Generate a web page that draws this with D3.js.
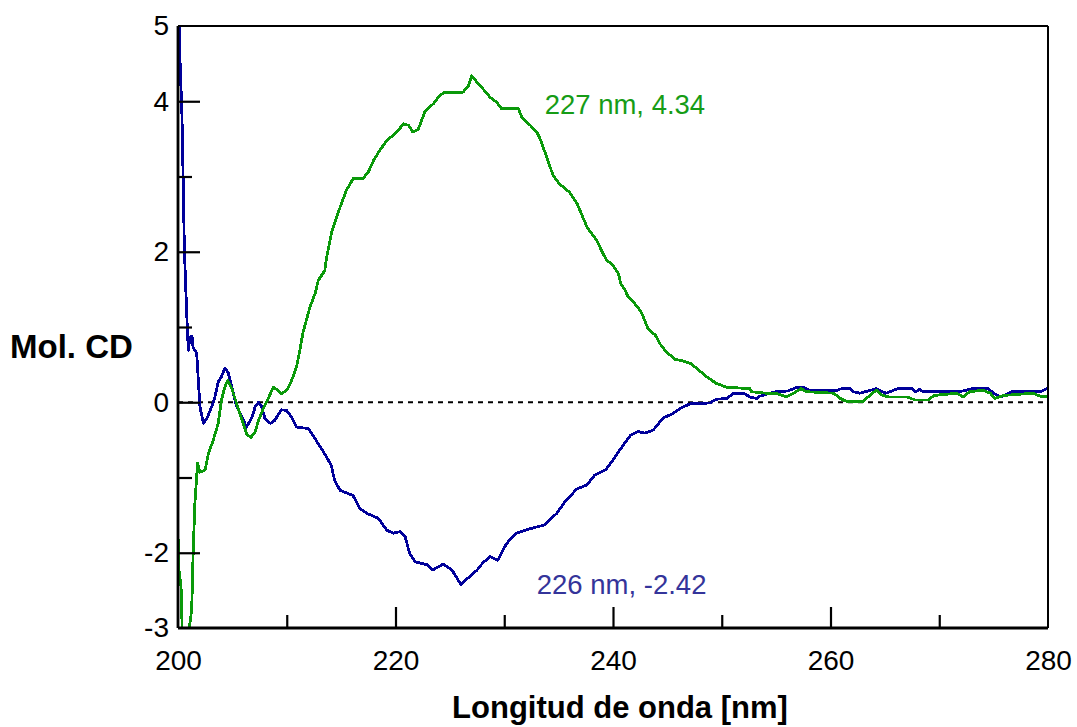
<!DOCTYPE html>
<html>
<head>
<meta charset="utf-8">
<script src="https://cdn.jsdelivr.net/npm/d3@7/dist/d3.min.js"></script>
<style>
  html, body { margin: 0; padding: 0; background: #fff; }
  svg { display: block; font-family: "Liberation Sans", Arial, sans-serif; }
</style>
</head>
<body>
<svg id="chart" width="1077" height="727"></svg>
<script>
// CD spectra: wavelength (nm) and molar CD for each sample
const greenNm = [200.0, 200.03, 200.28, 200.4, 200.95, 201.26, 201.4, 201.56, 201.8, 202.0, 202.5, 202.8, 203.25, 203.7, 204.0, 204.3, 204.57, 204.9, 205.4, 205.9, 206.3, 206.7, 207.1, 207.4, 207.85, 208.3, 208.76, 209.2, 209.5, 210.0, 210.45, 210.9, 211.2, 211.5, 211.8, 212.14, 212.6, 212.9, 213.5, 213.67, 214.13, 214.6, 214.9, 215.5, 216.1, 217.0, 217.5, 217.97, 218.57, 219.2, 219.8, 220.26, 220.7, 221.2, 221.6, 222.1, 222.7, 223.5, 224.1, 224.55, 226.2, 226.7, 227.0, 227.8, 228.2, 228.7, 229.3, 229.76, 231.3, 231.6, 232.4, 233.0, 233.3, 233.9, 234.5, 235.1, 236.0, 236.7, 237.6, 238.5, 239.0, 239.4, 240.0, 240.5, 240.7, 241.1, 241.4, 242.0, 242.5, 242.8, 243.2, 243.9, 244.3, 244.9, 245.7, 246.4, 247.2, 247.7, 248.6, 249.5, 250.45, 252.6, 252.7, 254.1, 255.0, 255.95, 256.6, 257.3, 257.8, 260.3, 260.9, 261.5, 263.0, 263.6, 264.2, 264.8, 265.4, 267.0, 267.8, 269.0, 269.5, 271.6, 272.2, 272.8, 274.0, 274.7, 275.1, 275.9, 278.6, 279.3, 280.0];
const greenCD = [-1.63, -2.16, -2.45, -3.1, -3.1, -2.76, -1.97, -1.32, -0.81, -0.93, -0.90, -0.68, -0.50, -0.28, 0.03, 0.20, 0.29, 0.20, -0.02, -0.24, -0.42, -0.47, -0.39, -0.24, -0.08, 0.05, 0.20, 0.16, 0.11, 0.16, 0.29, 0.47, 0.69, 0.93, 1.09, 1.27, 1.44, 1.62, 1.75, 1.93, 2.26, 2.46, 2.59, 2.82, 2.97, 2.97, 3.06, 3.21, 3.35, 3.48, 3.55, 3.61, 3.70, 3.68, 3.59, 3.63, 3.86, 3.97, 4.08, 4.12, 4.12, 4.20, 4.34, 4.20, 4.14, 4.05, 3.99, 3.90, 3.90, 3.79, 3.68, 3.59, 3.50, 3.26, 3.01, 2.90, 2.79, 2.64, 2.33, 2.15, 2.00, 1.89, 1.82, 1.71, 1.58, 1.49, 1.40, 1.31, 1.22, 1.13, 0.98, 0.89, 0.78, 0.67, 0.57, 0.55, 0.51, 0.45, 0.34, 0.25, 0.20, 0.18, 0.14, 0.12, 0.12, 0.07, 0.12, 0.18, 0.14, 0.12, 0.05, 0.01, 0.01, 0.09, 0.16, 0.09, 0.07, 0.07, 0.03, 0.03, 0.09, 0.12, 0.07, 0.14, 0.16, 0.12, 0.05, 0.09, 0.12, 0.08, 0.08];

const blueNm = [200.15, 200.2, 200.34, 200.49, 200.58, 200.8, 200.95, 201.1, 201.3, 201.38, 201.72, 201.87, 202.02, 202.33, 202.64, 203.1, 203.4, 203.7, 204.0, 204.3, 204.6, 204.9, 205.4, 205.9, 206.3, 206.8, 207.1, 207.4, 207.7, 208.0, 208.5, 208.9, 209.5, 210.0, 210.45, 210.9, 212.0, 212.4, 213.3, 214.1, 214.4, 214.9, 216.1, 216.7, 217.4, 218.4, 219.2, 219.8, 220.4, 220.9, 221.3, 221.8, 222.9, 223.4, 224.4, 225.2, 226.0, 227.5, 228.0, 228.7, 229.4, 230.2, 231.1, 232.4, 233.7, 234.8, 235.7, 236.7, 237.6, 238.3, 239.3, 240.0, 240.6, 241.6, 242.3, 242.9, 243.7, 244.6, 245.5, 246.2, 247.1, 248.9, 249.5, 250.45, 251.1, 252.0, 252.6, 253.2, 253.5, 254.4, 255.0, 256.1, 256.9, 257.5, 258.1, 260.6, 261.0, 261.8, 262.1, 262.7, 264.2, 265.1, 266.2, 267.5, 267.8, 268.2, 268.5, 271.6, 272.2, 273.0, 274.5, 275.0, 275.6, 276.0, 276.7, 279.3, 279.9, 280.0];
const blueCD = [5.3, 4.41, 3.97, 2.86, 2.06, 1.18, 0.69, 0.87, 0.87, 0.73, 0.65, 0.29, -0.06, -0.28, -0.22, -0.06, 0.07, 0.27, 0.34, 0.45, 0.40, 0.23, -0.06, -0.20, -0.33, -0.20, -0.06, 0.00, -0.06, -0.22, -0.28, -0.24, -0.10, -0.11, -0.20, -0.33, -0.35, -0.44, -0.64, -0.84, -1.04, -1.17, -1.24, -1.41, -1.48, -1.54, -1.70, -1.74, -1.72, -1.79, -2.01, -2.12, -2.16, -2.23, -2.15, -2.23, -2.42, -2.23, -2.14, -2.05, -2.10, -1.88, -1.74, -1.68, -1.63, -1.48, -1.30, -1.15, -1.10, -0.97, -0.90, -0.77, -0.64, -0.44, -0.39, -0.41, -0.37, -0.21, -0.15, -0.08, -0.02, -0.01, 0.04, 0.05, 0.12, 0.12, 0.07, 0.05, 0.08, 0.12, 0.14, 0.15, 0.20, 0.20, 0.16, 0.16, 0.18, 0.18, 0.14, 0.12, 0.18, 0.12, 0.18, 0.18, 0.14, 0.17, 0.14, 0.14, 0.15, 0.18, 0.18, 0.12, 0.07, 0.09, 0.14, 0.14, 0.18, 0.20];

// Extremum annotations
const peakNm = [227, 226];
const peakCD = [4.34, -2.42];

// Axis ticks and labels
const xLabelTicks = [200, 220, 240, 260, 280];
const xMajorTicks = [220, 240, 260];
const xMinorTicks = [210, 230, 250, 270];
const yLabelTicks = [-3, -2, 0, 2, 4, 5];
const yMajorTicks = [-2, 0, 2, 4];
const yMinorTicks = [-1, 1, 3];

const GREEN = "#0a990a", GREEN_TEXT = "#169c16";
const BLUE = "#00009a", BLUE_TEXT = "#34349a";
const FONT = "Liberation Sans, Arial, sans-serif";

const svg = d3.select("#chart");
const m = { left: 178, top: 26, right: 29, bottom: 99 };
const W = 1077 - m.left - m.right;
const H = 727 - m.top - m.bottom;

const x = d3.scaleLinear().domain([200, 280]).range([0, W]);
const y = d3.scaleLinear().domain([-3, 5]).range([H, 0]);

// plain hyphen-minus for negative numbers
const intFmt = d => String(d);
const valFmt = d => d.toFixed(2);

const g = svg.append("g").attr("transform", `translate(${m.left},${m.top})`);

g.append("clipPath").attr("id", "plot-clip")
  .append("rect").attr("x", 0).attr("y", 0).attr("width", W).attr("height", H);

// zero reference line
g.append("line")
  .attr("x1", x(200)).attr("x2", x(280))
  .attr("y1", y(0)).attr("y2", y(0))
  .attr("stroke", "#000").attr("stroke-width", 2)
  .attr("stroke-dasharray", "5,5");

const line = d3.line().x(d => x(d[0])).y(d => y(d[1]));
const greenData = greenNm.map((v, i) => [v, greenCD[i]]);
const blueData = blueNm.map((v, i) => [v, blueCD[i]]);

const curves = g.append("g").attr("clip-path", "url(#plot-clip)");
curves.append("path").datum(blueData)
  .attr("d", line).attr("fill", "none")
  .attr("stroke", BLUE).attr("stroke-width", 2.8)
  .attr("stroke-linejoin", "round")
  .attr("shape-rendering", "crispEdges");
curves.append("path").datum(greenData)
  .attr("d", line).attr("fill", "none")
  .attr("stroke", GREEN).attr("stroke-width", 2.8)
  .attr("stroke-linejoin", "round")
  .attr("shape-rendering", "crispEdges");

// frame
g.append("line").attr("x1", 0).attr("x2", W).attr("y1", 0).attr("y2", 0)
  .attr("stroke", "#000").attr("stroke-width", 2);
g.append("line").attr("x1", W).attr("x2", W).attr("y1", 0).attr("y2", H)
  .attr("stroke", "#000").attr("stroke-width", 2);

// y axis: labels, major and minor inward ticks
const yLab = g.append("g").call(d3.axisLeft(y).tickValues(yLabelTicks).tickSize(0).tickPadding(9)
  .tickFormat(intFmt));
yLab.select(".domain").remove();
yLab.selectAll("text").attr("font-size", 28).attr("fill", "#000").attr("font-family", FONT);

const yMaj = g.append("g").call(d3.axisLeft(y).tickValues(yMajorTicks).tickSizeInner(-22).tickSizeOuter(0).tickFormat(""));
yMaj.select(".domain").remove();
yMaj.selectAll("line").attr("stroke", "#000").attr("stroke-width", 2.2);
const yMin = g.append("g").call(d3.axisLeft(y).tickValues(yMinorTicks).tickSizeInner(-14).tickSizeOuter(0).tickFormat(""));
yMin.select(".domain").remove();
yMin.selectAll("line").attr("stroke", "#000").attr("stroke-width", 2.2);

// x axis: labels, major and minor inward ticks
const xLab = g.append("g").attr("transform", `translate(0,${H})`)
  .call(d3.axisBottom(x).tickValues(xLabelTicks).tickSize(0).tickPadding(22).tickFormat(intFmt));
xLab.select(".domain").remove();
xLab.selectAll("text").attr("font-size", 28).attr("fill", "#000").attr("font-family", FONT);

const xMaj = g.append("g").attr("transform", `translate(0,${H})`)
  .call(d3.axisBottom(x).tickValues(xMajorTicks).tickSizeInner(-21).tickSizeOuter(0).tickFormat(""));
xMaj.select(".domain").remove();
xMaj.selectAll("line").attr("stroke", "#000").attr("stroke-width", 2.2);
const xMin = g.append("g").attr("transform", `translate(0,${H})`)
  .call(d3.axisBottom(x).tickValues(xMinorTicks).tickSizeInner(-13).tickSizeOuter(0).tickFormat(""));
xMin.select(".domain").remove();
xMin.selectAll("line").attr("stroke", "#000").attr("stroke-width", 2.2);

// left and bottom axis lines
g.append("line").attr("x1", 0).attr("x2", 0).attr("y1", 0).attr("y2", H)
  .attr("stroke", "#000").attr("stroke-width", 2.8);
g.append("line").attr("x1", 0).attr("x2", W).attr("y1", H).attr("y2", H)
  .attr("stroke", "#000").attr("stroke-width", 2.8);

// peak annotations, placed to the right of each extremum
const annColors = [GREEN_TEXT, BLUE_TEXT];
const annDx = [73, 76];
const annDy = [38, 10];
peakNm.forEach((nm, i) => {
  g.append("text")
    .attr("x", x(nm) + annDx[i])
    .attr("y", y(peakCD[i]) + annDy[i])
    .attr("font-size", 27.5)
    .attr("font-family", FONT)
    .attr("fill", annColors[i])
    .text(`${nm} nm, ${valFmt(peakCD[i])}`);
});

// axis titles
svg.append("text")
  .attr("x", 10).attr("y", m.top + y(0.75) + 12)
  .attr("font-size", 33).attr("font-weight", "bold").attr("font-family", FONT)
  .text("Mol. CD");
svg.append("text")
  .attr("x", m.left + W / 2 + 7).attr("y", 718)
  .attr("text-anchor", "middle")
  .attr("font-size", 31).attr("font-weight", "bold").attr("font-family", FONT)
  .text("Longitud de onda [nm]");
</script>
</body>
</html>
